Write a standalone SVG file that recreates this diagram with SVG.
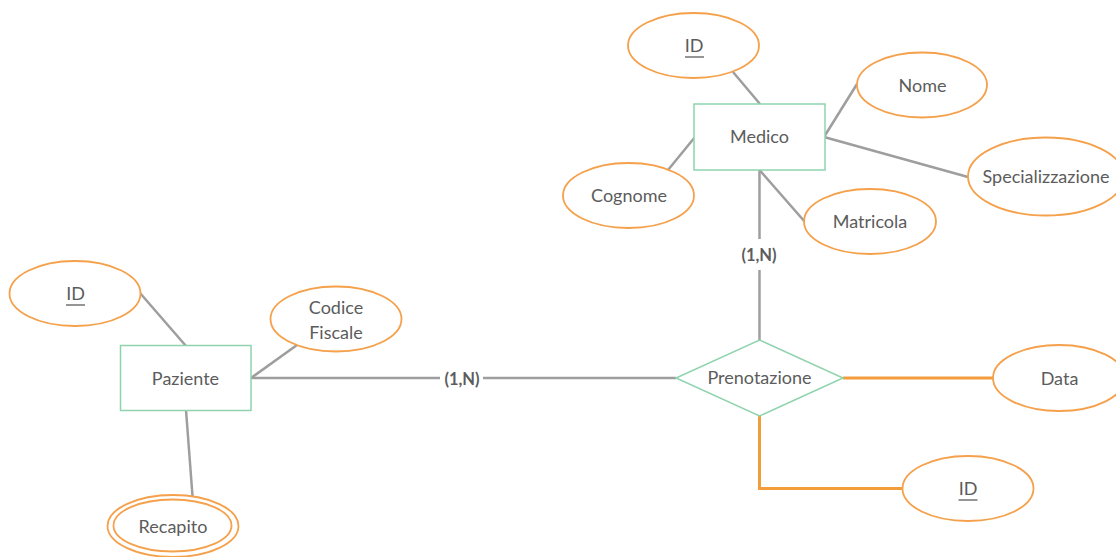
<svg xmlns="http://www.w3.org/2000/svg" width="1116" height="557" viewBox="0 0 1116 557">
<style>
.ent{fill:#fff;stroke:#8fd3ae;stroke-width:1.5}
.att{fill:#fff;stroke:#f5a04a;stroke-width:1.8}
.lbl{font-family:Lato,"Liberation Sans",sans-serif;font-size:18px;fill:#5c5c5c;text-anchor:middle}
.card{font-family:Lato,"Liberation Sans",sans-serif;font-size:16.5px;font-weight:bold;fill:#5c5c5c;text-anchor:middle}
.ln{stroke:#9e9e9e;stroke-width:2.5;fill:none}
.lo{stroke:#f39c3c;stroke-width:3;fill:none}
.ul{stroke:#5c5c5c;stroke-width:1.3}
</style>
<rect width="1116" height="557" fill="#fff"/>
<g id="connectors">
<line class="ln" x1="733" y1="72" x2="760" y2="104"/>
<line class="ln" x1="668" y1="170" x2="695" y2="137"/>
<line class="ln" x1="824" y1="137" x2="857" y2="84"/>
<line class="ln" x1="824" y1="137" x2="968" y2="177"/>
<line class="ln" x1="759.5" y1="170" x2="805" y2="222"/>
<line class="ln" x1="759.5" y1="170" x2="759.5" y2="239"/>
<line class="ln" x1="759.5" y1="270" x2="759.5" y2="340"/>
<line class="ln" x1="140" y1="293" x2="186" y2="346"/>
<line class="ln" x1="251" y1="378" x2="297" y2="345"/>
<line class="ln" x1="251" y1="378" x2="440" y2="378"/>
<line class="ln" x1="483" y1="378" x2="676" y2="378"/>
<line class="ln" x1="186" y1="410" x2="192.5" y2="496"/>
<line class="lo" x1="843" y1="378" x2="993" y2="378"/>
<polyline class="lo" points="759.5,416 759.5,488.5 902,488.5"/>
<text class="card" x="759" y="260.5">(1,N)</text>
<text class="card" x="462" y="384.5">(1,N)</text>
</g>
<g id="medico">
<rect class="ent" x="694" y="104" width="131" height="66"/>
<text class="lbl" x="759.5" y="143">Medico</text>
</g>
<g id="medico-id">
<ellipse class="att" cx="693.5" cy="45.5" rx="65.5" ry="32.5"/>
<text class="lbl" x="694" y="52">ID</text>
<line class="ul" x1="685" y1="57" x2="704" y2="57"/>
</g>
<g id="cognome">
<ellipse class="att" cx="628.5" cy="195.5" rx="65.5" ry="32.5"/>
<text class="lbl" x="629" y="202">Cognome</text>
</g>
<g id="nome">
<ellipse class="att" cx="922" cy="85" rx="65" ry="32.5"/>
<text class="lbl" x="922.5" y="91.5">Nome</text>
</g>
<g id="specializzazione">
<ellipse class="att" cx="1046" cy="176.5" rx="78" ry="39"/>
<text class="lbl" x="1046" y="183">Specializzazione</text>
</g>
<g id="matricola">
<ellipse class="att" cx="870" cy="221.5" rx="66" ry="32.5"/>
<text class="lbl" x="870" y="228">Matricola</text>
</g>
<g id="prenotazione">
<polygon class="ent" points="759.5,340 843,378 759.5,416 676,378"/>
<text class="lbl" x="759.5" y="384">Prenotazione</text>
</g>
<g id="data">
<ellipse class="att" cx="1059" cy="378" rx="66" ry="33"/>
<text class="lbl" x="1059.5" y="384.5">Data</text>
</g>
<g id="prenotazione-id">
<ellipse class="att" cx="968" cy="488.5" rx="65.5" ry="32.5"/>
<text class="lbl" x="968" y="494.5">ID</text>
<line class="ul" x1="958.5" y1="500" x2="977.5" y2="500"/>
</g>
<g id="paziente">
<rect class="ent" x="120.5" y="345.5" width="130.5" height="65"/>
<text class="lbl" x="185.5" y="384.5">Paziente</text>
</g>
<g id="paziente-id">
<ellipse class="att" cx="75" cy="293.5" rx="65.5" ry="32.5"/>
<text class="lbl" x="75.5" y="300">ID</text>
<line class="ul" x1="66" y1="305" x2="85" y2="305"/>
</g>
<g id="codice-fiscale">
<ellipse class="att" cx="336" cy="319" rx="65.5" ry="32.5"/>
<text class="lbl" x="336" y="313.5">Codice</text>
<text class="lbl" x="336" y="338.5">Fiscale</text>
</g>
<g id="recapito">
<ellipse class="att" cx="173" cy="526" rx="65.5" ry="31"/>
<ellipse class="att" cx="172.5" cy="525.5" rx="59" ry="26"/>
<text class="lbl" x="173" y="532.5">Recapito</text>
</g>
</svg>
